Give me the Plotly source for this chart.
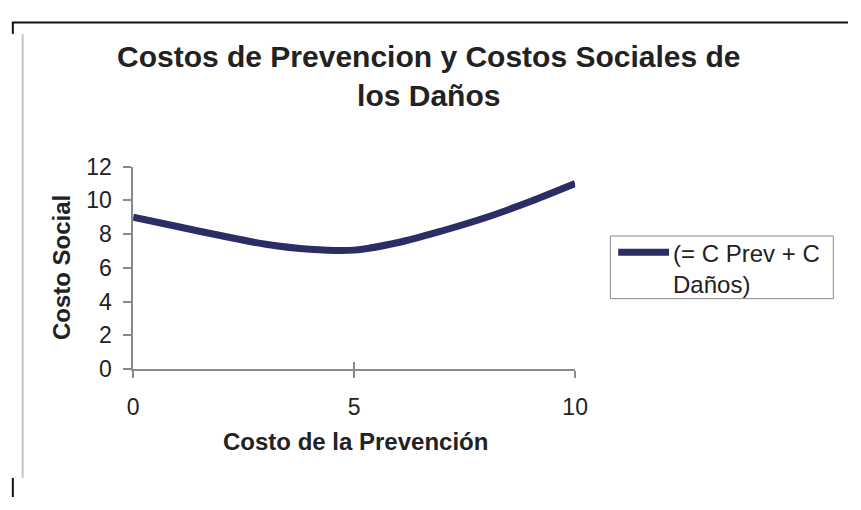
import plotly.graph_objects as go

x_vals = [0, 1, 2, 3, 4, 5, 6, 7, 8, 9, 10]
costo_social = [9.0, 8.45, 7.9, 7.4, 7.1, 7.05, 7.5, 8.2, 9.0, 9.95, 11.0]
series_name = "(= C Prev + C<br>Daños)"
title_text = "Costos de Prevencion y Costos Sociales de<br>los Daños"
x_title = "Costo de la Prevención"
y_title = "Costo Social"
x_ticks = [0, 5, 10]
y_ticks = [0, 2, 4, 6, 8, 10, 12]

W, H = 861, 510
def px(x):
    return x / W
def py(y):
    return 1 - y / H

FONT = "Liberation Sans, Arial, sans-serif"
LINE_COLOR = "#2c2d64"
AXIS_COLOR = "#8a8a8a"

fig = go.Figure()
fig.add_trace(go.Scatter(
    x=x_vals, y=costo_social, mode="lines", name=series_name,
    line=dict(color=LINE_COLOR, width=7, shape="spline", smoothing=0.9),
    showlegend=False,
))
# invisible trace on the overlay axis (gives the crossing tick marks)
fig.add_trace(go.Scatter(x=[x_vals[0]], y=[costo_social[0]], xaxis="x2",
                         mode="markers", marker=dict(opacity=0),
                         showlegend=False, hoverinfo="skip"))

axis_common = dict(showgrid=False, zeroline=False, showline=True,
                   linecolor=AXIS_COLOR, linewidth=1.5, ticks="outside",
                   tickcolor=AXIS_COLOR, tickwidth=1.5,
                   tickfont=dict(family=FONT, size=23, color="#222"))

x_domain = [px(130), px(582)]

fig.update_layout(
    width=W, height=H,
    margin=dict(l=0, r=0, t=0, b=0),
    paper_bgcolor="white", plot_bgcolor="white",
    xaxis=dict(domain=x_domain, range=[0, 10], tickvals=x_ticks,
               ticklen=7, ticklabelstandoff=10, **axis_common),
    xaxis2=dict(domain=x_domain, range=[0, 10], tickvals=x_ticks,
                overlaying="x", anchor="y", side="bottom",
                showgrid=False, zeroline=False, showline=False,
                ticks="inside", ticklen=7, tickcolor=AXIS_COLOR, tickwidth=1.5,
                showticklabels=False),
    yaxis=dict(domain=[py(375), py(162)], range=[0, 12], tickvals=y_ticks,
               ticklen=8, ticklabelstandoff=7, **axis_common),
    showlegend=False,
    annotations=[
        dict(text="<b>" + title_text + "</b>", x=px(433), y=py(66),
             xref="paper", yref="paper", showarrow=False,
             xanchor="center", yanchor="middle",
             font=dict(family=FONT, size=30, color="#222")),
        dict(text="<b>" + x_title + "</b>", x=px(357), y=py(451),
             xref="paper", yref="paper", showarrow=False,
             xanchor="center", yanchor="middle",
             font=dict(family=FONT, size=24, color="#222")),
        dict(text="<b>" + y_title + "</b>", x=px(57), y=py(268),
             xref="paper", yref="paper", showarrow=False, textangle=-90,
             xanchor="center", yanchor="middle",
             font=dict(family=FONT, size=24, color="#222")),
        # legend text
        dict(text=series_name, x=px(680), y=py(270), align="left",
             xref="paper", yref="paper", showarrow=False,
             xanchor="left", yanchor="middle",
             font=dict(family=FONT, size=24, color="#222")),
    ],
    shapes=[
        # legend box and sample line
        dict(type="rect", xref="paper", yref="paper", x0=px(618), x1=px(846),
             y0=py(235), y1=py(301), line=dict(color=AXIS_COLOR, width=1),
             fillcolor="white", layer="below"),
        dict(type="line", xref="paper", yref="paper", x0=px(626), x1=px(678),
             y0=py(252), y1=py(252), line=dict(color=LINE_COLOR, width=7)),
        # scanned page frame
        dict(type="line", xref="paper", yref="paper", x0=px(6), x1=1, y0=py(10), y1=py(10),
             line=dict(color="#111", width=2)),
        dict(type="line", xref="paper", yref="paper", x0=px(7), x1=px(7), y0=py(10), y1=py(22),
             line=dict(color="#111", width=2)),
        dict(type="line", xref="paper", yref="paper", x0=px(17), x1=px(17), y0=py(22), y1=py(490),
             line=dict(color="#c4c4c4", width=2)),
        dict(type="line", xref="paper", yref="paper", x0=px(7), x1=px(7), y0=py(490), y1=0,
             line=dict(color="#111", width=2)),
    ],
)

fig.write_html("out.html", post_script="document.body.style.margin='0';document.body.style.overflow='hidden';")
